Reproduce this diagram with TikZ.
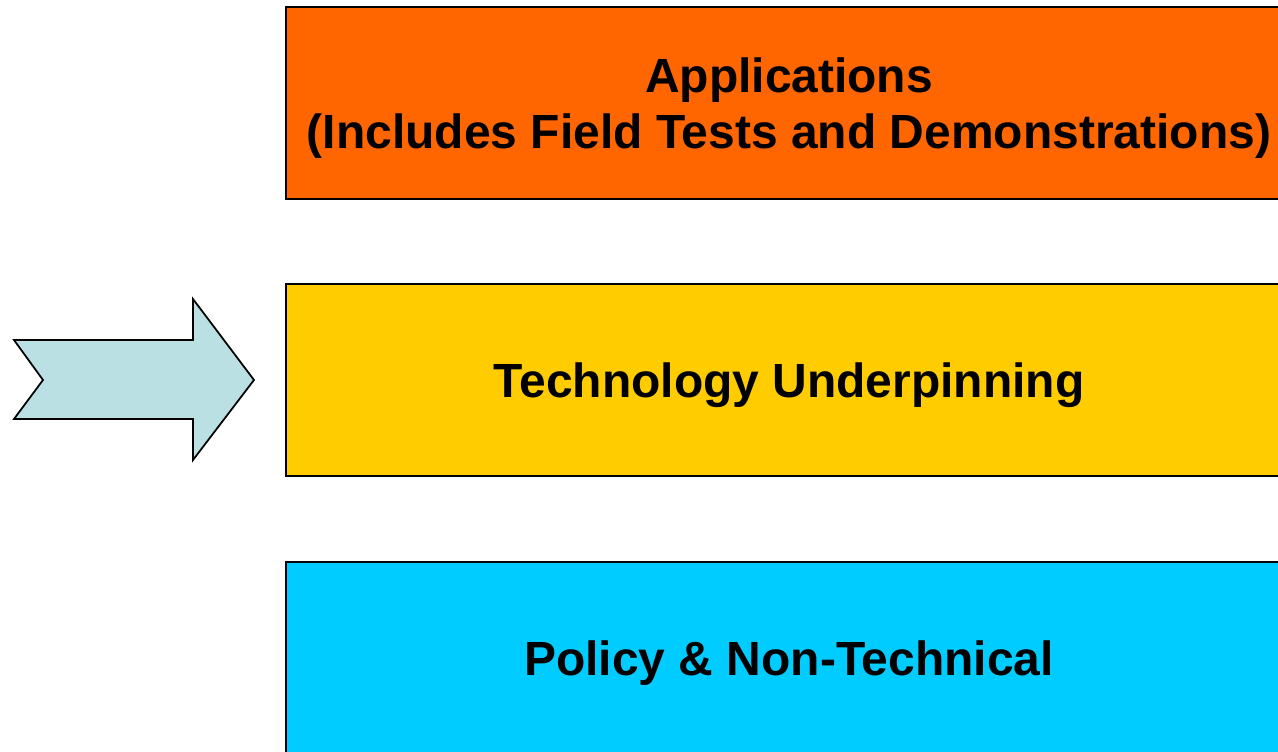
\documentclass[tikz,border=0pt]{standalone}
\usepackage{fontspec}
\setmainfont{Liberation Sans}
\usepackage{tikz}
\usetikzlibrary{positioning}
\definecolor{appOrange}{RGB}{255,102,0}
\definecolor{techYellow}{RGB}{255,204,0}
\definecolor{policyCyan}{RGB}{0,204,255}
\definecolor{arrowTeal}{RGB}{187,224,227}

\begin{document}
\begin{tikzpicture}[
    node distance=1.67cm,
    layer/.style={rectangle, minimum width=20.12cm, minimum height=3.84cm, text centered, text depth=0pt, draw=black, line width=1.1pt, font=\fontsize{27.3}{32}\selectfont\bfseries, align=center},
    bigarrow/.style={draw=black, line width=1pt, fill=arrowTeal, line join=miter}
]
\useasboundingbox (0,0) rectangle (25.56,15.04);
\clip (0,0) rectangle (25.56,15.04);

% Layers
\node[layer, fill=appOrange] (apps) at (15.78,12.98) {Applications\\(Includes Field Tests and Demonstrations)};
\node[layer, fill=techYellow, below=of apps] (tech) {Technology Underpinning};
\node[layer, fill=policyCyan, below=of tech] (policy) {Policy \& Non-Technical};

% Pointer arrow
\draw[bigarrow] (0.28,8.24) -- (3.86,8.24) -- (3.86,9.06) -- (5.08,7.44) -- (3.86,5.84) -- (3.86,6.66) -- (0.28,6.66) -- (0.86,7.44) -- cycle;

\end{tikzpicture}
\end{document}
